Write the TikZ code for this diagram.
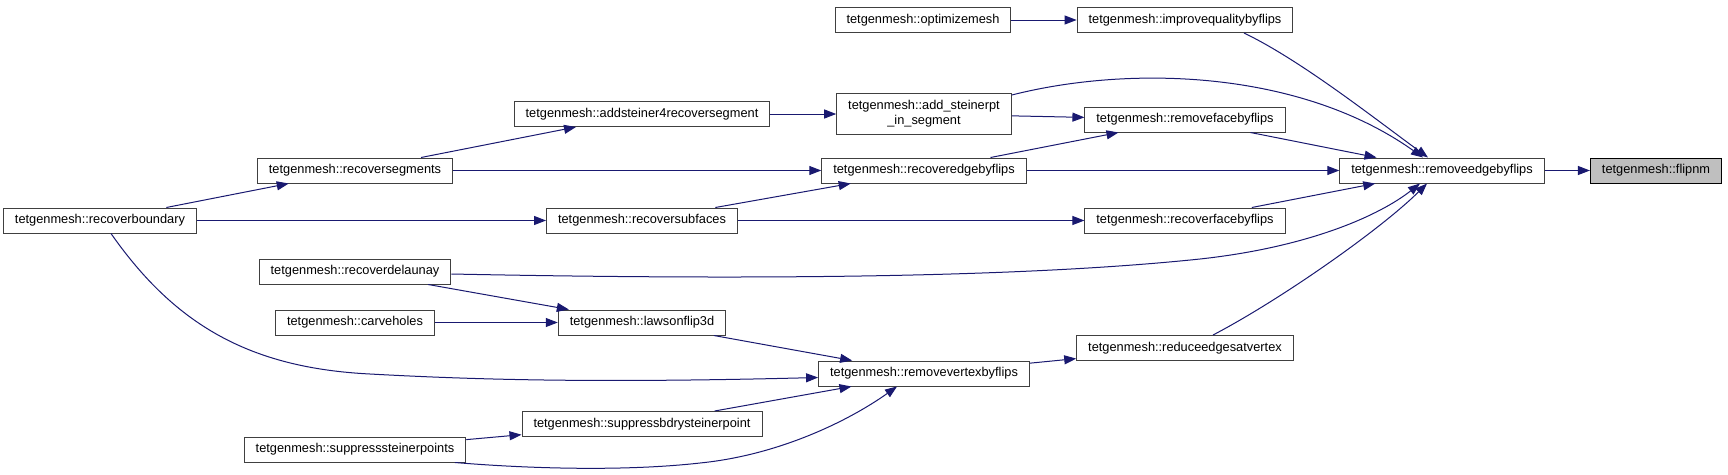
\documentclass[tikz,border=0pt]{standalone}
\usepackage{fontspec}
\setmainfont{Liberation Sans}
\usetikzlibrary{arrows.meta}
\definecolor{edgec}{HTML}{191970}
\definecolor{bordc}{HTML}{404040}
\definecolor{rootfill}{HTML}{BFBFBF}
\begin{document}
\begin{tikzpicture}[x=1pt,y=-1pt,
  fn/.style={draw=bordc, line width=1pt, fill=white, inner xsep=11.5pt, inner ysep=0pt,
    minimum height=25pt, font=\fontsize{12.8pt}{15pt}\selectfont, text=black},
  root/.style={fn, draw=black, fill=rootfill},
  call/.style={edgec, line width=1pt, -{Triangle[length=12pt,width=9pt]}}]
\path[use as bounding box, fill=white] (0,0) rectangle (1728,474);

\node[fn] (optimize) at (923,20) {tetgenmesh::optimizemesh};
\node[fn] (improve) at (1185,20) {tetgenmesh::improvequalitybyflips};
\node[fn] (addst4) at (642,114) {tetgenmesh::addsteiner4recoversegment};
\node[fn, align=center, minimum height=41pt] (addpt) at (924,114) {tetgenmesh::add\_steinerpt\\\_in\_segment};
\node[fn] (remface) at (1185,119.5) {tetgenmesh::removefacebyflips};
\node[fn] (recseg) at (355,170.5) {tetgenmesh::recoversegments};
\node[fn] (recedge) at (924,170.5) {tetgenmesh::recoveredgebyflips};
\node[fn] (remedge) at (1442,170.5) {tetgenmesh::removeedgebyflips};
\node[root] (flipnm) at (1656,170.5) {tetgenmesh::flipnm};
\node[fn] (recbound) at (100,220.5) {tetgenmesh::recoverboundary};
\node[fn] (recsub) at (642,220.5) {tetgenmesh::recoversubfaces};
\node[fn] (recface) at (1185,220.5) {tetgenmesh::recoverfacebyflips};
\node[fn] (recdel) at (355,271.5) {tetgenmesh::recoverdelaunay};
\node[fn] (carve) at (355,322.5) {tetgenmesh::carveholes};
\node[fn] (lawson) at (642,322.5) {tetgenmesh::lawsonflip3d};
\node[fn] (reduce) at (1185,348) {tetgenmesh::reduceedgesatvertex};
\node[fn] (remvert) at (924,373.5) {tetgenmesh::removevertexbyflips};
\node[fn] (suppb) at (642,424) {tetgenmesh::suppressbdrysteinerpoint};
\node[fn] (supps) at (355,449.5) {tetgenmesh::suppresssteinerpoints};

\draw[call] (remedge) -- (flipnm);
\draw[call] (optimize) -- (improve);
\draw[call] ([xshift=59pt]improve.south) .. controls (1300,60) and (1370,115) .. ([xshift=-14pt]remedge.north);
\draw[call] ([yshift=-2pt]addpt.north east) .. controls (1130,65) and (1300,70) .. ([xshift=-19pt]remedge.north);
\draw[call] (addpt) -- (remface);
\draw[call] (addst4) -- (addpt);
\draw[call] (recseg) -- (addst4);
\draw[call] (remface) -- (remedge);
\draw[call] (recedge) -- (remface);
\draw[call] (recedge) -- (remedge);
\draw[call] (recseg) -- (recedge);
\draw[call] (recbound) -- (recseg);
\draw[call] (recbound) -- (recsub);
\draw[call] (recsub) -- (recedge);
\draw[call] (recsub) -- (recface);
\draw[call] (recface) -- (remedge);
\draw[call] ([yshift=-2.5pt]recdel.east) .. controls (700,279) and (1000,280) .. (1200,259)
   .. controls (1310,247) and (1380,215) .. ([xshift=-22pt]remedge.south);
\draw[call] (recdel) -- (lawson);
\draw[call] (carve) -- (lawson);
\draw[call] (lawson) -- (remvert);
\draw[call] ([xshift=11pt]recbound.south) .. controls (175,325) and (250,368) .. (370,374)
   .. controls (480,380) and (600,383) .. ([yshift=-4pt]remvert.west);
\draw[call] (suppb) -- (remvert);
\draw[call] (supps) -- (suppb);
\draw[call] ([xshift=100pt]supps.south) .. controls (520,468) and (620,472) .. (700,463)
   .. controls (780,455) and (850,420) .. ([xshift=-27pt]remvert.south);
\draw[call] (remvert) -- (reduce);
\draw[call] ([xshift=28pt]reduce.north) .. controls (1280,300) and (1380,230) .. ([xshift=-15pt]remedge.south);
\end{tikzpicture}
\end{document}
